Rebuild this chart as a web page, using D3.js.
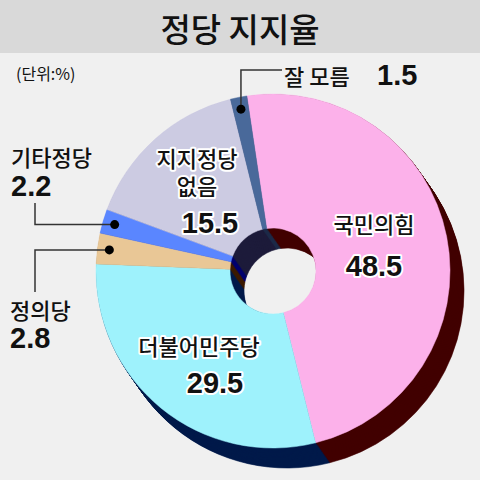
<!DOCTYPE html>
<html>
<head>
<meta charset="utf-8">
<script src="https://cdn.jsdelivr.net/npm/d3@7"></script>
<style>
  body { margin: 0; background: #f0f0f0; }
  svg { display: block; }
  text { font-family: "Noto Sans CJK KR", sans-serif; }
  .num { font-family: "Liberation Sans", Arial, sans-serif; font-weight: bold; }
  .halo { paint-order: stroke; stroke: #fff; stroke-width: 4px; stroke-linejoin: round; }
</style>
</head>
<body>
<svg id="chart" width="480" height="480"></svg>
<script>
var parties = ["국민의힘", "더불어민주당", "정의당", "기타정당", "지지정당 없음", "잘 모름"];
var values = [48.5, 29.5, 2.8, 2.2, 15.5, 1.5];
var faceColors = ["#fcb1ea", "#9ef2fc", "#e9c796", "#5a86ff", "#cccbe2", "#49699a"];
var sideColors = ["#420000", "#001a4a", "#3c1a00", "#00006e", "#1d1b3a", "#1d2a48"];

var width = 480, height = 480;
var cx = 273, cy = 271, outerR = 177, innerR = 43;
var depth = {x: 14, y: 20};

var svg = d3.select("#chart");

svg.append("rect").attr("width", width).attr("height", height).attr("fill", "#f0f0f0");
svg.append("rect").attr("width", width).attr("height", 53).attr("fill", "#d9d9d9");
svg.append("text")
  .attr("x", width / 2).attr("y", 28)
  .attr("text-anchor", "middle").attr("dominant-baseline", "central")
  .attr("font-size", 33).attr("font-weight", 500).attr("fill", "#111")
  .text("정당 지지율");
svg.append("text")
  .attr("x", 16).attr("y", 73)
  .attr("dominant-baseline", "central")
  .attr("font-size", 16).attr("fill", "#111")
  .text("(단위:%)");

var rot = -8.5 * Math.PI / 180;
var pie = d3.pie().sort(null).startAngle(rot).endAngle(rot + 2 * Math.PI);
var arcs = pie(values);
var arc = d3.arc().innerRadius(innerR).outerRadius(outerR);

// extruded body: stack of dark copies towards the back
var steps = 24;
var body = svg.append("g");
for (var i = steps; i >= 1; i--) {
  body.append("g")
    .attr("transform", "translate(" + (cx + depth.x * i / steps) + "," + (cy + depth.y * i / steps) + ")")
    .selectAll("path").data(arcs).enter().append("path")
      .attr("d", arc)
      .attr("fill", (d, j) => sideColors[j])
      .attr("stroke", (d, j) => sideColors[j])
      .attr("stroke-width", 0.6);
}

var face = svg.append("g").attr("transform", "translate(" + cx + "," + cy + ")");
face.selectAll("path").data(arcs).enter().append("path")
  .attr("d", arc)
  .attr("fill", (d, j) => faceColors[j])
  .attr("stroke", (d, j) => faceColors[j])
  .attr("stroke-width", 0.5);

// callouts for the small slices
var dotArc = d3.arc().innerRadius(outerR - 12).outerRadius(outerR - 12);
function dotPos(j) {
  var c = dotArc.centroid(arcs[j]);
  return [cx + c[0], cy + c[1]];
}
var callouts = [
  {j: 5, path: p => [[p[0], p[1]], [p[0], 70], [282, 70]]},
  {j: 3, path: p => [[p[0], p[1]], [35, p[1]], [35, 203]]},
  {j: 2, path: p => [[p[0], p[1]], [35, p[1]], [35, 292]]}
];
callouts.forEach(function(c) {
  var p = dotPos(c.j);
  svg.append("path")
    .attr("d", d3.line()(c.path(p)))
    .attr("fill", "none").attr("stroke", "#333").attr("stroke-width", 1.5);
  svg.append("circle").attr("cx", p[0]).attr("cy", p[1]).attr("r", 4.5).attr("fill", "#000");
});

// labels
var labels = [
  {lines: [{t: "국민의힘", x: 374, y: 223}], num: {t: values[0], x: 374, y: 266}, anchor: "middle", halo: true},
  {lines: [{t: "더불어민주당", x: 199, y: 345}], num: {t: values[1], x: 215, y: 383}, anchor: "middle", halo: true},
  {lines: [{t: "정의당", x: 10, y: 309}], num: {t: values[2], x: 10, y: 338}, anchor: "start", halo: false},
  {lines: [{t: "기타정당", x: 11, y: 156}], num: {t: values[3], x: 11, y: 186}, anchor: "start", halo: false},
  {lines: [{t: "지지정당", x: 197, y: 157}, {t: "없음", x: 197, y: 185}], num: {t: values[4], x: 210, y: 223}, anchor: "middle", halo: true},
  {lines: [{t: "잘 모름", x: 284, y: 75}], num: {t: values[5], x: 377, y: 75}, anchor: "start", halo: false}
];
labels.forEach(function(l) {
  l.lines.forEach(function(s) {
    svg.append("text")
      .attr("class", l.halo ? "halo" : null)
      .attr("x", s.x).attr("y", s.y)
      .attr("text-anchor", l.anchor).attr("dominant-baseline", "central")
      .attr("font-size", 22).attr("font-weight", 500).attr("fill", "#111")
      .text(s.t);
  });
  svg.append("text")
    .attr("class", l.halo ? "num halo" : "num")
    .attr("x", l.num.x).attr("y", l.num.y)
    .attr("text-anchor", l.anchor).attr("dominant-baseline", "central")
    .attr("font-size", 29).attr("fill", "#111")
    .text(d3.format(".1f")(l.num.t));
});
</script>
</body>
</html>
